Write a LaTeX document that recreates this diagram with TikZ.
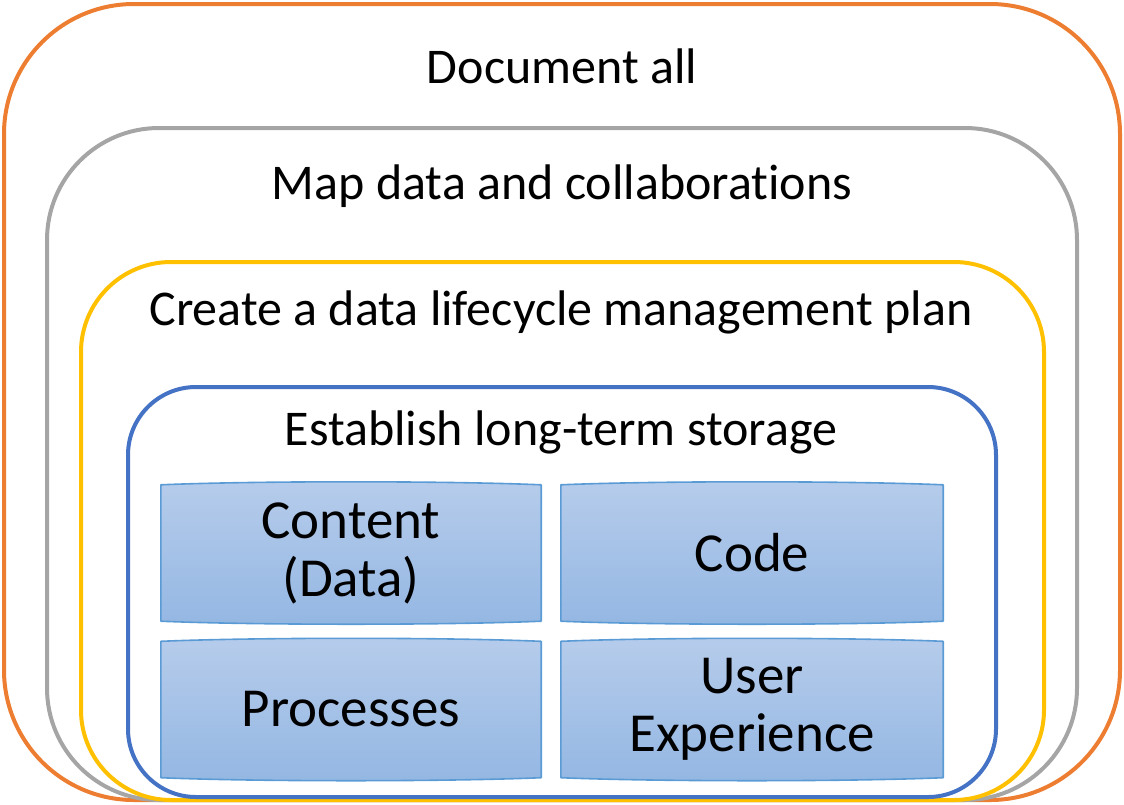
\documentclass[tikz,border=0pt]{standalone}
\usepackage{fontspec}
\setmainfont{Carlito}[Ligatures=NoCommon]
\usepackage{tikz}
\usetikzlibrary{calc,backgrounds}
\definecolor{ringorange}{HTML}{ED7D31}
\definecolor{ringgray}{HTML}{A5A5A5}
\definecolor{ringyellow}{HTML}{FFC000}
\definecolor{ringblue}{HTML}{4472C4}
\definecolor{cardedge}{HTML}{5B9BD5}
\definecolor{cardtop}{RGB}{182,204,235}
\definecolor{cardbot}{RGB}{148,183,227}

\begin{document}
\begin{tikzpicture}[
  x=1pt,y=-1pt,
  ring/.style={draw,line width=4pt,inner sep=0pt,outer sep=0pt},
  title/.style={font=\fontsize{50}{58}\selectfont,inner sep=0pt},
  card/.style={inner sep=0pt,minimum height=136pt,align=center,
               font=\fontsize{55}{58}\selectfont},
  cardshape/.style={draw=cardedge,line width=1.6pt,line join=round,
                    top color=cardtop,bottom color=cardbot},
]
\useasboundingbox (0,0) rectangle (1124,804);
% ----- nested rings
\node[ring,ringorange,rounded corners=130pt,minimum width=1116pt,minimum height=796pt] (docall) at (562,402) {};
\node[ring,ringgray,rounded corners=112pt,minimum width=1030pt,minimum height=672pt] (mapdata) at (562,464) {};
\node[ring,ringyellow,rounded corners=90pt,minimum width=963pt,minimum height=538pt] (plan) at (562.5,531) {};
\node[ring,ringblue,rounded corners=68pt,minimum width=868pt,minimum height=410pt] (storage) at (562,592) {};
% ----- ring titles
\node[title] (tdocall) at (562,66) {Document all};
\node[title] (tmapdata) at (562,186) {Map data and collaborations};
\node[title] (tplan) at (561,312) {Create a data lifecycle management plan};
\node[title] (tstorage) at (561,432) {Establish long-term storage};
% ----- storage cards
\node[card,minimum width=380pt] (content) at (351,553) {Content\\(Data)};
\node[card,minimum width=382pt] (code) at (752,553) {Code};
\node[card,minimum width=380pt] (proc) at (351,709.5) {Processes};
\node[card,minimum width=382pt] (ux) at (752,709.5) {User\\Experience};
\begin{scope}[on background layer]
\foreach \n in {content,code,proc,ux}
  \draw[cardshape] (\n.north west) -- (\n.south west)
    .. controls ($(\n.south west)!0.25!(\n.south east)+(0,4)$) and ($(\n.south west)!0.75!(\n.south east)+(0,4)$) .. (\n.south east)
    -- (\n.north east)
    .. controls ($(\n.north east)!0.25!(\n.north west)+(0,-4)$) and ($(\n.north east)!0.75!(\n.north west)+(0,-4)$) .. (\n.north west) -- cycle;
\end{scope}
\end{tikzpicture}
\end{document}
